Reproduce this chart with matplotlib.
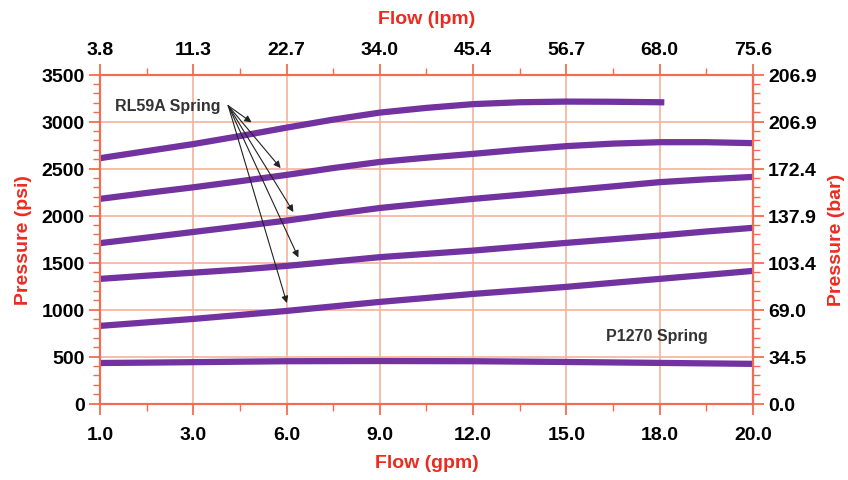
import numpy as np
import matplotlib
matplotlib.use('Agg')
import matplotlib.pyplot as plt
from matplotlib.ticker import FixedLocator, NullFormatter

plt.rcParams['font.family'] = ['Liberation Sans', 'DejaVu Sans']

# axis tick data
gpm_ticks = [1.0, 3.0, 6.0, 9.0, 12.0, 15.0, 18.0, 20.0]
lpm_labels = ['3.8', '11.3', '22.7', '34.0', '45.4', '56.7', '68.0', '75.6']
psi_ticks = [0, 500, 1000, 1500, 2000, 2500, 3000, 3500]
bar_labels = ['0.0', '34.5', '69.0', '103.4', '137.9', '172.4', '206.9', '206.9']

# curves (flow gpm -> pressure psi)
flow_pts = [1, 2, 3, 4.5, 6, 7.5, 9, 10.5, 12, 13.5, 15, 16.5, 18, 19, 20]
flow_a = [1, 2, 3, 4.5, 6, 7.5, 9, 10.5, 12, 13.5, 15, 16.5, 18, 18.1]
psi_a = [2610, 2685, 2760, 2845, 2935, 3020, 3095, 3145, 3185, 3205, 3212, 3210, 3205, 3204]
psi_b = [2177, 2240, 2300, 2365, 2432, 2505, 2570, 2615, 2656, 2700, 2738, 2765, 2780, 2780, 2770]
psi_c = [1706, 1765, 1825, 1885, 1946, 2015, 2080, 2130, 2177, 2220, 2265, 2310, 2355, 2385, 2411]
psi_d = [1326, 1360, 1392, 1425, 1464, 1510, 1557, 1592, 1627, 1668, 1709, 1748, 1787, 1830, 1869]
psi_e = [826, 863, 900, 942, 985, 1033, 1081, 1123, 1166, 1203, 1241, 1284, 1326, 1368, 1411]
psi_f = [431, 435, 440, 445, 450, 451, 452, 451, 450, 446, 442, 437, 432, 427, 422]

# RL59A annotation: label anchor and arrow targets (gpm, psi)
rl_label_x = 1.32
rl_origin = (4.125, 3168)
rl_targets_x = [4.875, 5.81, 6.22, 6.38, 6.01]
rl_targets_y = [2991, 2505, 2037, 1554, 1069]
p1270_pos = (17.9, 720)

purple = '#7232a0'
red = '#ee2a1f'
spine_col = '#f26d4f'
grid_col = '#f8b29a'

idx = np.arange(len(gpm_ticks))


def fwd(x):
    return np.interp(x, gpm_ticks, idx)


def inv(x):
    return np.interp(x, idx, gpm_ticks)


minor_x = inv(idx[:-1] + 0.5)

fig = plt.figure(figsize=(8.48, 4.81), dpi=100)
ax = fig.add_axes([0.1179, 0.159, 0.770, 0.684])
ax.set_xscale('function', functions=(fwd, inv))
ax.set_xlim(1.0, 20.0)
ax.set_ylim(0, 3500)

for fx, fy in [(flow_a, psi_a), (flow_pts, psi_b), (flow_pts, psi_c),
               (flow_pts, psi_d), (flow_pts, psi_e), (flow_pts, psi_f)]:
    ax.plot(fx, fy, color=purple, lw=4.5, solid_capstyle='butt', zorder=3)

ax.set_xticks(gpm_ticks)
ax.set_xticklabels(['%.1f' % v for v in gpm_ticks])
ax.xaxis.set_minor_locator(FixedLocator(minor_x))
ax.xaxis.set_minor_formatter(NullFormatter())
ax.set_yticks(psi_ticks)
ax.yaxis.set_minor_locator(FixedLocator(np.arange(0, 3501, 100)))

ax.grid(True, which='major', color=grid_col, lw=1.2, zorder=0)
for s in ax.spines.values():
    s.set_color(spine_col)
    s.set_linewidth(1.5)

tick_font = dict(fontsize=14, fontweight='bold')
ax.tick_params(which='major', length=8, width=1.3, color=spine_col, pad=3)
ax.tick_params(axis='x', which='major', pad=8)
ax.tick_params(which='minor', length=5, width=1.0, color=spine_col)
for lab in ax.get_xticklabels() + ax.get_yticklabels():
    lab.set_fontsize(14)
    lab.set_fontweight('bold')

# top axis in lpm
top = ax.twiny()
top.set_xscale('function', functions=(fwd, inv))
top.set_xlim(ax.get_xlim())
top.set_xticks(gpm_ticks)
top.set_xticklabels(lpm_labels, **tick_font)
top.xaxis.set_minor_locator(FixedLocator(minor_x))
top.xaxis.set_minor_formatter(NullFormatter())
top.tick_params(which='major', length=8, width=1.3, color=spine_col, pad=4)
top.tick_params(which='minor', length=5, width=1.0, color=spine_col)
for s in top.spines.values():
    s.set_color(spine_col)
    s.set_linewidth(1.5)

# right axis in bar
right = ax.secondary_yaxis('right')
right.set_yticks(psi_ticks)
right.set_yticklabels(bar_labels, **tick_font)
right.yaxis.set_minor_locator(FixedLocator(np.arange(0, 3501, 100)))
right.tick_params(which='major', length=8, width=1.3, color=spine_col, pad=3)
right.tick_params(which='minor', length=5, width=1.0, color=spine_col)
right.spines['right'].set_color(spine_col)
right.spines['right'].set_linewidth(1.5)

lab_font = dict(fontsize=14, fontweight='bold', color=red)
ax.set_xlabel('Flow (gpm)', labelpad=8, **lab_font)
ax.set_ylabel('Pressure (psi)', labelpad=7, **lab_font)
top.set_xlabel('Flow (lpm)', labelpad=13, **lab_font)
right.set_ylabel('Pressure (bar)', labelpad=8, **lab_font)

ax.text(rl_label_x, rl_origin[1], 'RL59A Spring', fontsize=11.5, fontweight='bold',
        color='#333333', va='center', ha='left')
for tx, ty in zip(rl_targets_x, rl_targets_y):
    ax.annotate('', xy=(tx, ty), xytext=rl_origin,
                arrowprops=dict(arrowstyle='-|>', color='#222222', lw=0.8,
                                mutation_scale=10, shrinkA=0, shrinkB=0),
                zorder=4)
ax.text(p1270_pos[0], p1270_pos[1], 'P1270 Spring', fontsize=11.5, fontweight='bold',
        color='#333333', va='center', ha='center')

fig.savefig('out.png', dpi=100)
